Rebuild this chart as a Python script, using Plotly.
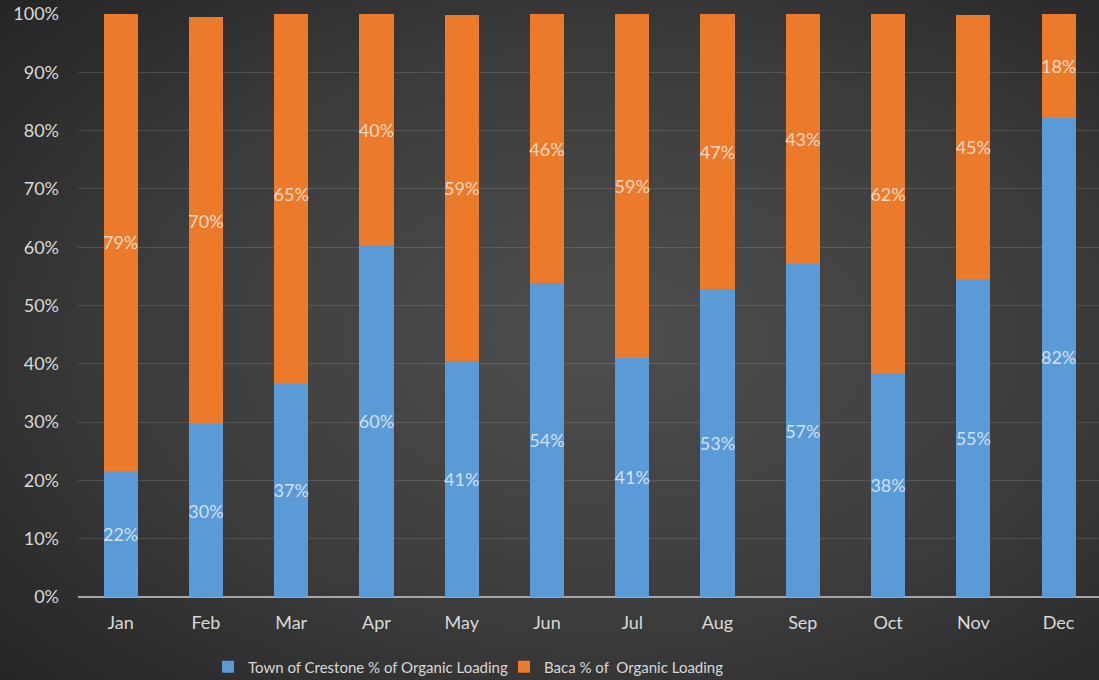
import base64
import plotly.graph_objects as go

# Monthly share of organic loading, percent
months = ["Jan", "Feb", "Mar", "Apr", "May", "Jun",
          "Jul", "Aug", "Sep", "Oct", "Nov", "Dec"]
crestone_pct = [21.6, 29.6, 36.6, 60.3, 40.5, 53.8, 41.0, 52.8, 57.1, 38.4, 54.5, 82.2]
baca_pct = [78.6, 69.9, 65.0, 39.7, 59.4, 46.2, 59.0, 47.2, 42.9, 61.6, 45.4, 17.8]
y_ticks = list(range(0, 101, 10))
y_tick_text = [f"{v}%" for v in y_ticks]

W, H = 1099, 680
M_L, M_R, M_T, M_B = 78, 0, 14, 83

FONT = "Lato, 'Open Sans', sans-serif"
TEXT_COL = "#d9d9d9"
LABEL_COL = "rgba(255,255,255,0.72)"
BLUE = "#5a9ad7"
ORANGE = "#ec7a2b"

# Dark radial backdrop as an inline SVG image
bg_svg = f"""<svg xmlns='http://www.w3.org/2000/svg' width='{W}' height='{H}' viewBox='0 0 {W} {H}' preserveAspectRatio='none'>
<defs><radialGradient id='g' cx='0.55' cy='0.5' r='0.75'>
<stop offset='0' stop-color='#4e4e4e'/>
<stop offset='0.55' stop-color='#3c3c3c'/>
<stop offset='1' stop-color='#242424'/>
</radialGradient></defs>
<rect width='{W}' height='{H}' fill='url(#g)'/></svg>"""
bg_uri = "data:image/svg+xml;base64," + base64.b64encode(bg_svg.encode()).decode()

fig = go.Figure()
for name, vals, col in [
    ("Town of Crestone % of Organic Loading", crestone_pct, BLUE),
    ("Baca % of  Organic Loading", baca_pct, ORANGE),
]:
    fig.add_trace(go.Bar(
        x=months, y=vals, name=name,
        marker=dict(color=col, line=dict(width=0)),
        width=0.4,
        texttemplate="%{y:.0f}%", textposition="inside", insidetextanchor="middle",
        textangle=0, constraintext="none",
        textfont=dict(family=FONT, size=18, color=LABEL_COL),
    ))

plot_w = W - M_L - M_R
plot_h = H - M_T - M_B
cat_px = 85.27
x_hi = -0.5 + plot_w / cat_px

fig.update_layout(
    width=W, height=H,
    margin=dict(l=M_L, r=M_R, t=M_T, b=M_B, autoexpand=False),
    barmode="stack",
    paper_bgcolor="#2a2a2a",
    plot_bgcolor="rgba(0,0,0,0)",
    font=dict(family=FONT, color=TEXT_COL, size=18),
    showlegend=True,
    legend=dict(
        orientation="h",
        xref="container", x=208 / W, xanchor="left",
        yref="container", y=1 - 667 / H, yanchor="middle",
        font=dict(family=FONT, size=15, color=TEXT_COL),
        bgcolor="rgba(0,0,0,0)", traceorder="normal",
        entrywidth=251, entrywidthmode="pixels",
    ),
    xaxis=dict(
        type="category", range=[-0.5, x_hi],
        showgrid=False, showline=False, zeroline=False,
        ticks="", ticklabelstandoff=13,
        tickfont=dict(size=18, color=TEXT_COL),
        fixedrange=True,
    ),
    yaxis=dict(
        range=[0, 100], tickmode="array", tickvals=y_ticks, ticktext=y_tick_text,
        showgrid=True, gridcolor="rgba(255,255,255,0.13)", gridwidth=1,
        zeroline=True, zerolinecolor="#a6a6a6", zerolinewidth=2,
        showline=False, ticks="", ticklabelstandoff=18,
        tickfont=dict(size=18, color=TEXT_COL),
        fixedrange=True,
    ),
    images=[dict(
        source=bg_uri, xref="paper", yref="paper",
        x=-M_L / plot_w, y=1 + M_T / plot_h,
        sizex=W / plot_w, sizey=H / plot_h,
        xanchor="left", yanchor="top", sizing="stretch", layer="below",
    )],
)

fig.write_html("out.html")
